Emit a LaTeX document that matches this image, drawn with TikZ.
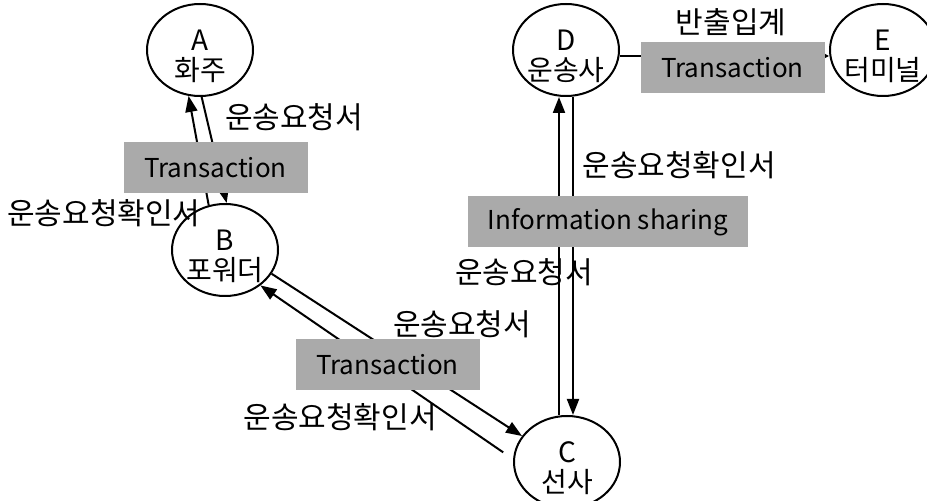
\documentclass[tikz,border=0pt]{standalone}
\usepackage{fontspec}
\newfontfamily\krfont{Noto Sans CJK KR}
\usepackage{xcolor}
\usetikzlibrary{
    shapes.geometric,
    arrows.meta
}
\definecolor{boxgray}{RGB}{170,170,170}
\newcommand{\toplift}{\rule{0pt}{17pt}}

\begin{document}
\begin{tikzpicture}[x=0.5pt, y=-0.5pt,
    font=\krfont\fontsize{13}{15}\selectfont,
    party/.style={ellipse, draw, line width=1pt, minimum width=53pt, minimum height=46pt, inner sep=-2pt, align=center, font=\krfont\fontsize{14}{15}\selectfont},
    flow/.style={line width=1pt, -{Triangle[length=8pt,width=6pt]}},
    tbox/.style={fill=boxgray, minimum width=92pt, minimum height=25.5pt, inner sep=0pt},
    lbl/.style={inner sep=0pt, font=\krfont\fontsize{15}{17}\selectfont}]
                                \useasboundingbox (0,0) rectangle (927,501);
                                \node[party] (a) at (200,50) {\toplift A\\화주};
                                \node[party] (b) at (225,250) {\toplift B\\포워더};
                                \node[party] (c) at (567,462) {\toplift C\\선사};
                                \node[party] (d) at (566,50) {\toplift D\\운송사};
                                \node[party] (e) at (883,50) {\toplift E\\터미널};
                                \draw[flow] (b.110) -- (a.-104);
                                \draw[flow] (a.-88) -- (b.88);
                                \draw[flow] (b.-27) -- (c.150);
                                \draw[flow, shorten <=6pt] (c.177) -- (b.-45);
                                \draw[flow] ([xshift=3.5pt]d.south) -- ([xshift=3.5pt]d.south |- c.north);
                                \draw[flow] ([xshift=-3.5pt]d.south |- c.north) -- ([xshift=-3.5pt]d.south);
                                \draw[line width=1pt, -{Triangle[length=3pt,width=3pt]}]
                                ([yshift=-3pt]d.east) -- ([yshift=-3pt]e.west);
                                \node[tbox] (t1) at (215.5,167.5) {Transaction};
                                \node[tbox] (t2) at (387.5,364.5) {Transaction};
                                \node[tbox] (t3) at (732.5,67.5) {Transaction};
                                \node[tbox, minimum width=140pt] (is) at (608,222) {Information sharing};
                                \node[lbl] (l1) at (294,117) {운송요청서};
                                \node[lbl] (l2) at (104,213) {운송요청확인서};
                                \node[lbl] (l3) at (462,324) {운송요청서};
                                \node[lbl] (l4) at (340,417) {운송요청확인서};
                                \node[lbl] (l5) at (679,165) {운송요청확인서};
                                \node[lbl] (l6) at (524,272) {운송요청서};
                                \node[lbl] (l7) at (731,22) {반출입계};
                            \end{tikzpicture}
\end{document}
